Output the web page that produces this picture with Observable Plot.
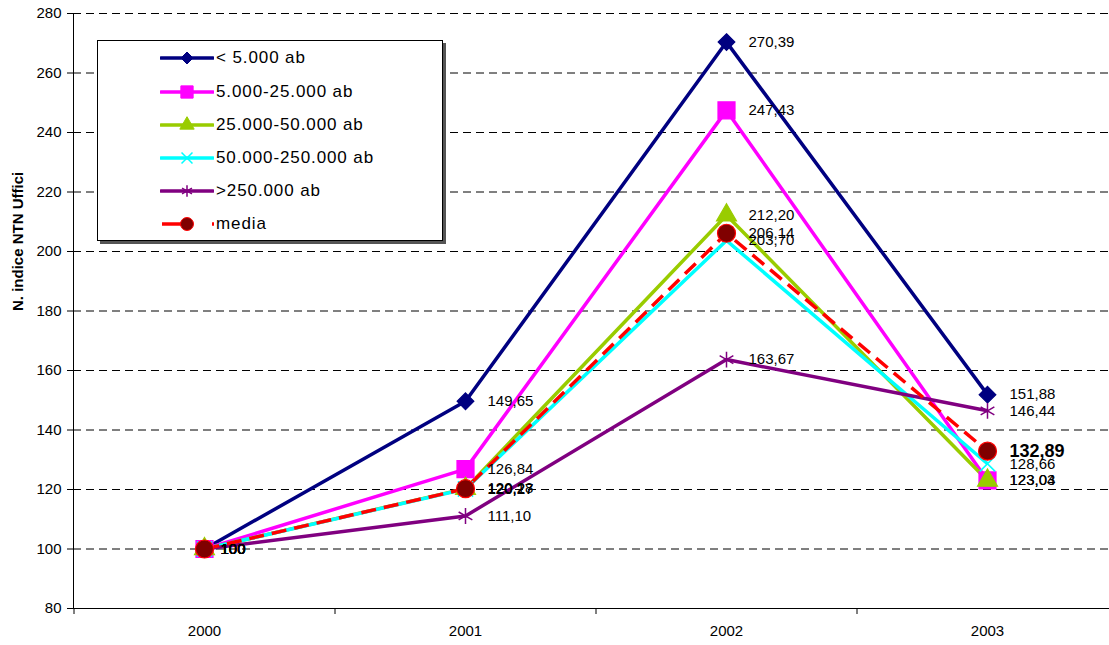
<!DOCTYPE html>
<html>
<head>
<meta charset="utf-8">
<script src="https://cdn.jsdelivr.net/npm/d3@7"></script>
<script src="https://cdn.jsdelivr.net/npm/@observablehq/plot@0.6"></script>
<style>
  html, body { margin: 0; padding: 0; background: #fff; }
  #wrap { position: relative; width: 1109px; height: 645px; font-family: "Liberation Sans", Arial, sans-serif; }
  #legend { position: absolute; left: 97px; top: 40px; width: 344px; height: 199px; background: #fff;
            border: 1px solid #000; box-shadow: 3px 3px 0 #555; }
  .row { position: absolute; left: 0; height: 24px; display: flex; align-items: center; }
  .row span { font-size: 17px; letter-spacing: 0.9px; color: #000; margin-left: 2px; white-space: nowrap; }
</style>
</head>
<body>
<div id="wrap"><div id="legend"></div></div>
<script>
// ---- data ----
const years = ["2000", "2001", "2002", "2003"];
const seriesNames = ["< 5.000 ab", "5.000-25.000 ab", "25.000-50.000 ab", "50.000-250.000 ab", ">250.000 ab", "media"];
const under5k    = [100, 149.65, 270.39, 151.88];
const s5k25k     = [100, 126.84, 247.43, 123.04];
const s25k50k    = [100, 120.28, 212.20, 123.03];
const s50k250k   = [100, 120.17, 203.70, 128.66];
const over250k   = [100, 111.10, 163.67, 146.44];
const media      = [100, 120.27, 206.14, 132.89];
const yTicks = [80, 100, 120, 140, 160, 180, 200, 220, 240, 260, 280];
const yLabel = "N. indice NTN Uffici";

const allValues = [under5k, s5k25k, s25k50k, s50k250k, over250k, media];

// ---- styles ----
const styles = [
  {color: "#000080", symbol: "diamond2", r: 7.5, fill: "#000080", stroke: "#000080", dash: null},
  {color: "#FF00FF", symbol: "square", r: 9.6, fill: "#FF00FF", stroke: "#FF00FF", dash: null},
  {color: "#99CC00", symbol: "triangle", r: 7.4, fill: "#99CC00", stroke: "#99CC00", dash: null},
  {color: "#00FFFF", symbol: "times", r: 7, fill: "none", stroke: "#00FFFF", dash: null},
  {color: "#800080", symbol: "asterisk", r: 7.5, fill: "none", stroke: "#800080", dash: null},
  {color: "#FF0000", symbol: "circle", r: 9, fill: "#800000", stroke: "#FF0000", dash: "15,8"}
];

const fmt = v => v === 100 ? "100" : v.toFixed(2).replace(".", ",");

const rows = [];
seriesNames.forEach((name, i) => {
  years.forEach((yr, j) => rows.push({series: name, idx: i, year: yr, value: allValues[i][j]}));
});

const W = 1109, H = 645;
const left = 73, right = 1117;
const step = (right - left) / years.length;
const FONT = 15;

const marks = [
  Plot.gridY(yTicks.filter(t => t > 80), {stroke: "#000", strokeOpacity: 1, strokeDasharray: "8,5", strokeWidth: 1}),
  Plot.ruleY([80], {stroke: "#000", strokeWidth: 1}),
  Plot.axisY({ticks: yTicks, tickSize: 6, tickPadding: 6, fontSize: FONT, label: null}),
  Plot.axisX({tickSize: 0, tickPadding: 17, fontSize: FONT, label: null}),
  Plot.axisX({tickSize: 6, text: null, label: null, dx: -step / 2}),
];

styles.forEach((st, i) => {
  const d = rows.filter(r => r.idx === i);
  marks.push(Plot.line(d, {x: "year", y: "value", stroke: st.color, strokeWidth: 3.5,
    strokeDasharray: st.dash, strokeLinejoin: "miter", strokeLinecap: "butt"}));
});
styles.forEach((st, i) => {
  const d = rows.filter(r => r.idx === i);
  marks.push(Plot.dot(d, {x: "year", y: "value", symbol: () => st.symbol, r: st.r,
    fill: st.fill, stroke: st.stroke, strokeWidth: st.fill === "none" ? 1.5 : 1.2}));
});
// data labels
const isBig = r => r.idx === 5 && r.year === "2003";
marks.push(Plot.text(rows.filter(r => r.year === "2000"), {
  x: "year", y: "value", text: d => fmt(d.value), dx: 16, textAnchor: "start", fontSize: FONT, fill: "#000"
}));
marks.push(Plot.text(rows.filter(r => r.year !== "2000" && !isBig(r)), {
  x: "year", y: "value", text: d => fmt(d.value), dx: 22, textAnchor: "start", fontSize: FONT, fill: "#000"
}));
marks.push(Plot.text(rows.filter(isBig), {
  x: "year", y: "value", text: d => fmt(d.value), dx: 22, textAnchor: "start", fontSize: 18, fontWeight: "bold", fill: "#000"
}));
// y-axis title
marks.push(Plot.text([yLabel], {frameAnchor: "left", text: d => d, rotate: -90, dx: -55, fontSize: 15, fontWeight: "bold", fill: "#000"}));

const chart = Plot.plot({
  width: W, height: H,
  marginLeft: left, marginRight: 0, marginTop: 13, marginBottom: 37,
  style: {fontFamily: "'Liberation Sans', Arial, sans-serif", color: "#000", background: "#fff", overflow: "hidden"},
  x: {type: "point", domain: years, range: [left, right], padding: 0.5, axis: null},
  y: {domain: [80, 280], axis: null},
  marks
});
document.getElementById("wrap").prepend(chart);

// y axis line (left)
const svg = d3.select(chart);
svg.append("line").attr("x1", left + 0.5).attr("x2", left + 0.5).attr("y1", 13).attr("y2", 608).attr("stroke", "#000");

// ---- legend ----
const legend = document.getElementById("legend");
const rowY = [17, 51, 84, 117, 150, 183];
styles.forEach((st, i) => {
  const div = document.createElement("div");
  div.className = "row";
  div.style.top = (rowY[i] - 12) + "px";
  div.style.left = "62px";
  const s = d3.create("svg").attr("width", 54).attr("height", 24);
  if (i === 5) {
    s.append("line").attr("x1", 2).attr("x2", 26).attr("y1", 12).attr("y2", 12).attr("stroke", st.color).attr("stroke-width", 3.5);
    s.append("line").attr("x1", 52).attr("x2", 54).attr("y1", 12).attr("y2", 12).attr("stroke", st.color).attr("stroke-width", 3.5);
  } else {
    s.append("line").attr("x1", 1).attr("x2", 53).attr("y1", 12).attr("y2", 12).attr("stroke", st.color).attr("stroke-width", 3.5).attr("stroke-linecap", "round");
  }
  const symMap = {diamond2: d3.symbolDiamond2, square: d3.symbolSquare, triangle: d3.symbolTriangle, times: d3.symbolTimes, asterisk: d3.symbolAsterisk, circle: d3.symbolCircle};
  const rr = st.r * 0.72;
  s.append("path").attr("transform", "translate(27,12)")
    .attr("d", d3.symbol(symMap[st.symbol], rr * rr * Math.PI)())
    .attr("fill", st.fill).attr("stroke", st.stroke).attr("stroke-width", st.fill === "none" ? 1.5 : 1);
  div.appendChild(s.node());
  const sp = document.createElement("span");
  sp.textContent = seriesNames[i];
  div.appendChild(sp);
  legend.appendChild(div);
});
</script>
</body>
</html>
